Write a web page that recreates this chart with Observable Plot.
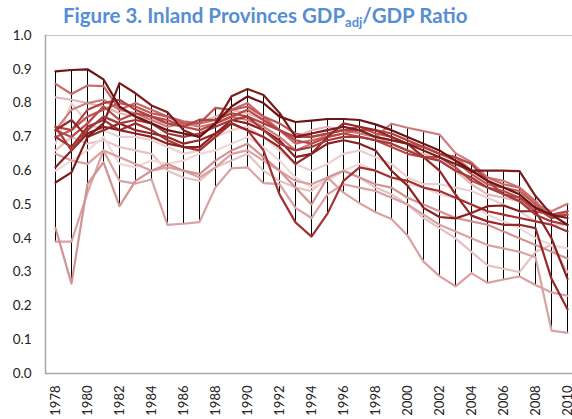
<!DOCTYPE html>
<html><head><meta charset="utf-8">
<script src="https://cdn.jsdelivr.net/npm/d3@7"></script>
<script src="https://cdn.jsdelivr.net/npm/@observablehq/plot@0.6"></script>
<style>
body{margin:0;background:#fff;width:572px;height:419px;overflow:hidden;font-family:Lato,sans-serif}
#title{height:30px;box-sizing:border-box;padding-left:63px;padding-top:5px;font-weight:bold;font-size:20.5px;color:#558ed5;white-space:nowrap;line-height:21px}
#title sub{font-size:13px;vertical-align:-4px;line-height:0}
#chart svg{overflow:visible}
</style></head><body>
<div id="title">Figure 3. Inland Provinces GDP<sub>adj</sub>/GDP Ratio</div>
<div id="chart"></div>
<script>
const years = [1978,1979,1980,1981,1982,1983,1984,1985,1986,1987,1988,1989,1990,1991,1992,1993,1994,1995,1996,1997,1998,1999,2000,2001,2002,2003,2004,2005,2006,2007,2008,2009,2010];
const xTickLabels = [1978,1980,1982,1984,1986,1988,1990,1992,1994,1996,1998,2000,2002,2004,2006,2008,2010];
const yTickLabels = [0,0.1,0.2,0.3,0.4,0.5,0.6,0.7,0.8,0.9,1.0];

// light series first (drawn underneath), dark last
const s18 = [.66,.70,.68,.69,.67,.66,.65,.60,.58,.57,.61,.63,.65,.60,.57,.55,.54,.58,.60,.58,.55,.53,.50,.46,.43,.40,.36,.32,.31,.30,.36,.38,.30];
const s17 = [.68,.80,.74,.72,.70,.70,.69,.67,.65,.66,.70,.72,.73,.70,.66,.62,.60,.62,.65,.66,.64,.62,.58,.56,.56,.55,.54,.52,.50,.48,.45,.44,.44];
const s16 = [.60,.63,.66,.70,.62,.61,.63,.62,.63,.65,.66,.68,.70,.67,.63,.58,.55,.57,.60,.62,.60,.58,.56,.55,.53,.52,.50,.47,.45,.43,.40,.38,.37];
const s15 = [.65,.63,.62,.66,.64,.62,.60,.61,.60,.58,.61,.65,.66,.63,.60,.57,.56,.58,.535,.504,.477,.457,.408,.331,.288,.258,.297,.268,.278,.287,.262,.24,.23];
const s14 = [.39,.39,.535,.66,.57,.562,.574,.44,.443,.448,.551,.607,.61,.563,.56,.49,.46,.53,.56,.55,.54,.52,.50,.47,.44,.42,.40,.38,.37,.36,.344,.127,.12];
const s13 = [.43,.266,.56,.625,.495,.57,.60,.62,.60,.59,.63,.66,.68,.64,.60,.55,.50,.58,.60,.58,.56,.55,.52,.50,.48,.46,.45,.44,.42,.40,.38,.36,.34];
const s12 = [.817,.81,.80,.79,.77,.76,.75,.74,.73,.74,.76,.78,.77,.75,.72,.70,.72,.73,.72,.72,.70,.68,.66,.65,.63,.60,.56,.53,.52,.51,.48,.47,.47];
const s11 = [.72,.78,.80,.81,.78,.77,.75,.73,.74,.73,.74,.76,.75,.73,.70,.66,.68,.71,.72,.71,.70,.739,.727,.717,.707,.652,.625,.58,.57,.55,.50,.48,.502];
const s10 = [.857,.827,.852,.85,.78,.80,.78,.76,.746,.74,.75,.78,.80,.76,.72,.68,.69,.70,.71,.72,.70,.69,.68,.67,.65,.64,.60,.58,.56,.55,.51,.46,.48];
const s09 = [.70,.72,.76,.78,.80,.79,.77,.76,.74,.74,.786,.78,.79,.76,.74,.71,.70,.71,.72,.73,.71,.70,.68,.67,.65,.63,.59,.56,.55,.54,.50,.46,.47];
const s08 = [.72,.70,.74,.79,.75,.77,.76,.75,.73,.72,.74,.76,.78,.75,.72,.69,.68,.70,.71,.70,.69,.67,.65,.64,.64,.61,.57,.55,.54,.52,.48,.47,.48];
const s07 = [.73,.72,.78,.80,.81,.78,.76,.74,.73,.751,.75,.77,.76,.74,.72,.70,.70,.71,.72,.72,.72,.71,.69,.67,.65,.64,.62,.57,.53,.52,.49,.46,.47];
const s06 = [.70,.67,.73,.75,.72,.74,.72,.69,.67,.66,.70,.74,.72,.66,.53,.447,.405,.473,.57,.61,.60,.58,.57,.55,.54,.52,.50,.48,.47,.46,.45,.44,.42];
const s05 = [.72,.75,.70,.72,.74,.72,.71,.70,.68,.69,.71,.74,.72,.70,.67,.62,.65,.70,.74,.73,.72,.70,.68,.64,.60,.53,.467,.45,.44,.44,.43,.28,.19];
const s04 = [.61,.66,.71,.73,.72,.71,.70,.68,.67,.67,.71,.75,.74,.72,.69,.64,.65,.68,.69,.68,.66,.60,.556,.49,.463,.459,.475,.495,.497,.48,.48,.40,.28];
const s03 = [.565,.595,.70,.74,.859,.829,.793,.773,.72,.70,.74,.82,.842,.824,.771,.70,.71,.72,.73,.72,.70,.69,.68,.66,.64,.62,.60,.60,.60,.599,.525,.47,.46];
const s02 = [.73,.66,.72,.76,.74,.75,.74,.71,.70,.71,.73,.75,.76,.72,.68,.66,.67,.69,.70,.70,.69,.68,.66,.64,.63,.60,.58,.55,.53,.51,.47,.45,.44];
const s01 = [.894,.898,.90,.87,.79,.76,.74,.72,.71,.70,.74,.79,.82,.80,.76,.744,.748,.753,.753,.75,.737,.72,.70,.68,.66,.63,.60,.57,.55,.53,.49,.47,.44];

const series = [s18,s17,s16,s15,s14,s13,s12,s11,s10,s09,s08,s07,s06,s05,s04,s03,s02,s01];
const names = ["s18","s17","s16","s15","s14","s13","s12","s11","s10","s09","s08","s07","s06","s05","s04","s03","s02","s01"];
const colors = ["#e6c2c2","#ebd0d0","#efd8d8","#dba0a0","#d9a3a3","#d49393","#e3b8b8","#cf7c7c","#c86a6a","#c05858","#b84a4a","#b04242","#a33232","#962828","#8a2222","#7d1c1c","#a43a3a","#6e1414"];

const rows = [];
series.forEach((vals, i) => vals.forEach((v, j) => rows.push({year: years[j], value: v, series: names[i]})));
const hiLo = years.map((y, j) => ({year: y, lo: d3.min(series, s => s[j]), hi: d3.max(series, s => s[j])}));

const chart = Plot.plot({
  width: 572, height: 389,
  marginTop: 5, marginBottom: 46, marginLeft: 45, marginRight: 0,
  style: {fontFamily: "Lato, sans-serif", fontSize: "13px", color: "#222", overflow: "visible"},
  x: {type: "point", domain: years, range: [45, 576], padding: 0.5, label: null},
  y: {domain: [0, 1], label: null},
  color: {domain: names, range: colors},
  marks: [
    Plot.ruleY([1], {stroke: "#c8c8c8", strokeWidth: 1}),
    Plot.ruleX(hiLo, {x: "year", y1: "lo", y2: "hi", stroke: "#000", strokeWidth: 1}),
    Plot.line(rows, {x: "year", y: "value", z: "series", stroke: "series", strokeWidth: 2.2}),
    Plot.ruleY([0], {stroke: "#a6a6a6", strokeWidth: 1.5}),
    Plot.frame({anchor: "left", stroke: "#a6a6a6", strokeWidth: 1.5}),
    Plot.axisY({ticks: yTickLabels, tickFormat: d3.format(".1f"), tickSize: 0, tickPadding: 14, fontSize: 13.5, label: null}),
    Plot.axisX({ticks: xTickLabels, tickFormat: d => String(d), tickRotate: -90, tickSize: 0, tickPadding: 12, fontSize: 13, label: null})
  ]
});
document.getElementById("chart").appendChild(chart);
</script>
</body></html>
